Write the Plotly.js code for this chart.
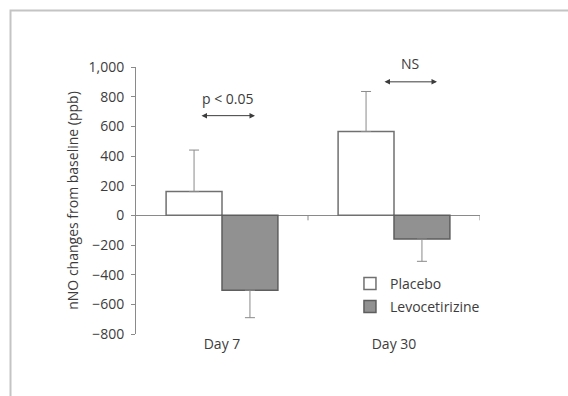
<!DOCTYPE html>
<html>
<head>
<meta charset="utf-8">
<script src="https://cdn.plot.ly/plotly-3.0.1.min.js"></script>
<style>
  html, body { margin: 0; padding: 0; background: #fff; }
  #chart { width: 568px; height: 396px; }
</style>
</head>
<body>
<div id="chart"></div>
<script>
// Change in nasal NO from baseline, by visit and treatment
const days = ['Day 7', 'Day 30'];
const placeboMean = [160, 565];
const placeboSD = [280, 270];
const levoMean = [-505, -160];
const levoSD = [185, 150];
const yTicks = [-800, -600, -400, -200, 0, 200, 400, 600, 800, 1000];
const yRange = [-800, 1000];

// Significance notes between the paired bars
const sigLabels = ['p < 0.05', 'NS'];
const sigArrowY = [672, 900];
const sigTextY = [785, 1022];

const ink = '#3c3c3c';
const gray = '#8a8a8a';
const font = { family: '"Open Sans", "Noto Sans", sans-serif', size: 14, color: ink };

const zeros = days.map(() => 0);
const toPaperY = v => (v - yRange[0]) / (yRange[1] - yRange[0]);

const traces = [
  {
    type: 'bar', name: 'Placebo', x: days, y: placeboMean,
    legendgroup: 'a',
    marker: { color: '#ffffff', line: { color: '#707070', width: 1.5 } },
    error_y: { type: 'data', symmetric: false, array: placeboSD, arrayminus: zeros,
               color: gray, thickness: 1, width: 5 }
  },
  {
    type: 'bar', name: 'Levocetirizine', x: days, y: levoMean,
    legendgroup: 'b',
    marker: { color: '#919191', line: { color: '#5e5e5e', width: 1.5 } },
    error_y: { type: 'data', symmetric: false, array: zeros, arrayminus: levoSD,
               color: gray, thickness: 1, width: 5 }
  }
];

// Short ticks hanging under the zero line at each category boundary
const shapes = days.map((d, i) => ({
  type: 'line', xref: 'x', yref: 'y', ysizemode: 'pixel', yanchor: 0,
  x0: i + 0.5, x1: i + 0.5, y0: 0, y1: -5,
  line: { color: gray, width: 1 }
}));
// Frame around the figure
shapes.push({
  type: 'rect', xref: 'paper', yref: 'paper', layer: 'below',
  x0: -0.3648, x1: 2, y0: -1, y1: 1.2116,
  line: { color: '#c4c4c4', width: 2 }, fillcolor: 'rgba(0,0,0,0)'
});

const annotations = [];
days.forEach((d, i) => {
  const left = i === 0 ? i - 0.128 : i - 0.064;
  const right = i === 0 ? i + 0.192 : i + 0.25;
  annotations.push({
    xref: 'x', yref: 'y', axref: 'x', ayref: 'y',
    x: right, y: sigArrowY[i], ax: left, ay: sigArrowY[i],
    text: '', showarrow: true, arrowside: 'end+start',
    arrowhead: 2, arrowsize: 1.1, arrowwidth: 1, arrowcolor: ink,
    standoff: 0, startstandoff: 0
  });
  annotations.push({
    xref: 'x', yref: 'paper', x: (left + right) / 2, y: toPaperY(sigTextY[i]),
    xanchor: 'center', yanchor: 'middle',
    text: sigLabels[i], showarrow: false, font: font
  });
});

const layout = {
  width: 568, height: 396,
  margin: { l: 136, r: 88, t: 67, b: 62 },
  paper_bgcolor: '#ffffff', plot_bgcolor: 'rgba(0,0,0,0)',
  font: font,
  barmode: 'group', bargap: 0.35, bargroupgap: 0,
  showlegend: true,
  legend: {
    x: 0.622, y: 0.248, xanchor: 'left', yanchor: 'top',
    bgcolor: 'rgba(0,0,0,0)', font: font,
    traceorder: 'grouped', tracegroupgap: 2, itemwidth: 30
  },
  xaxis: {
    type: 'category', range: [-0.5, 1.5],
    showline: false, showgrid: false, zeroline: false, ticks: '',
    tickfont: font, fixedrange: true
  },
  yaxis: {
    range: yRange, tickvals: yTicks, tickformat: ',d',
    showline: true, linecolor: gray, linewidth: 1,
    ticks: 'outside', ticklen: 4, tickcolor: gray, tickwidth: 1,
    ticklabelstandoff: 4,
    showgrid: false, zeroline: true, zerolinecolor: gray, zerolinewidth: 1,
    tickfont: font, automargin: false,
    title: { text: 'nNO changes from baseline (ppb)', font: font, standoff: 6 }
  },
  shapes: shapes,
  annotations: annotations
};

Plotly.newPlot('chart', traces, layout, { displayModeBar: false, staticPlot: true });
</script>
</body>
</html>
